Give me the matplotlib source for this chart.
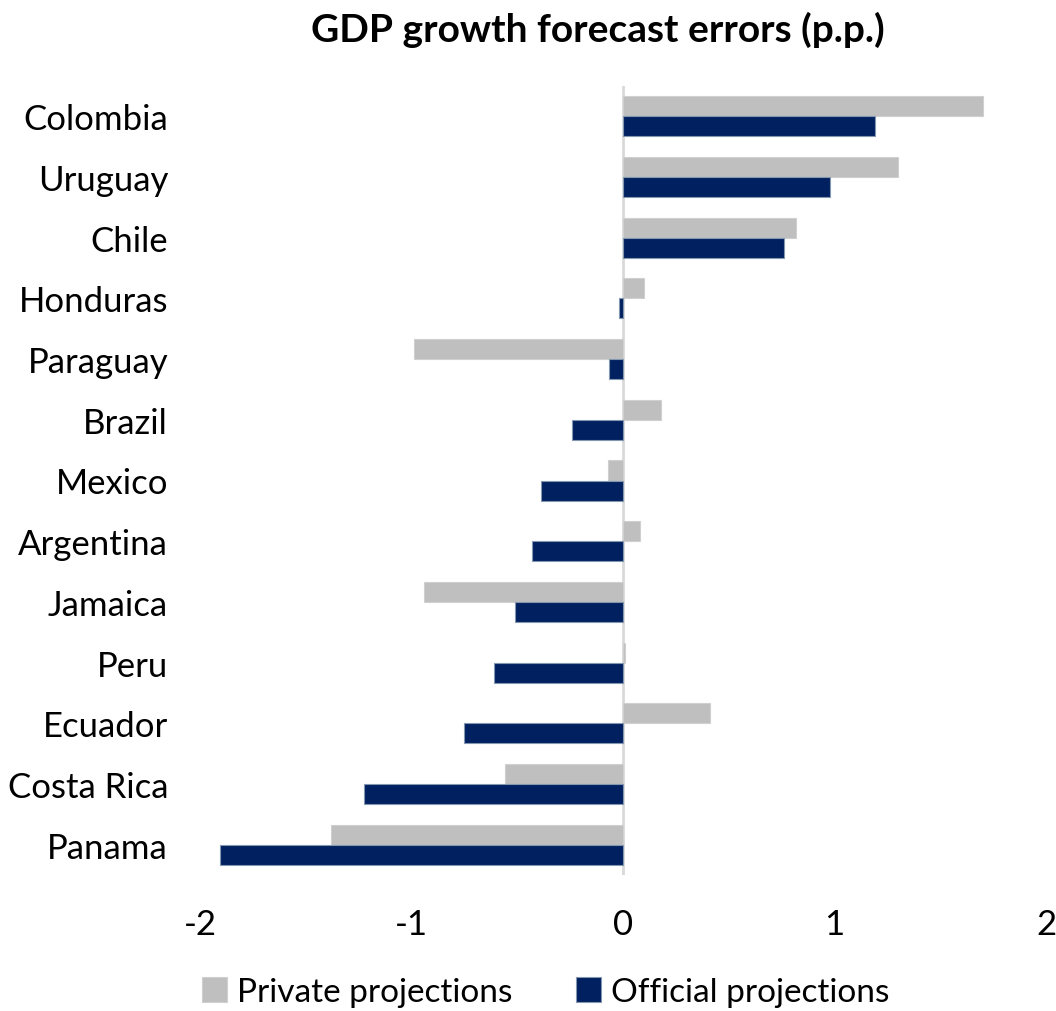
import matplotlib
matplotlib.use("Agg")
import matplotlib.pyplot as plt
import numpy as np

countries = ["Colombia", "Uruguay", "Chile", "Honduras", "Paraguay", "Brazil",
             "Mexico", "Argentina", "Jamaica", "Peru", "Ecuador", "Costa Rica", "Panama"]
private = [1.70, 1.30, 0.82, 0.10, -0.99, 0.18, -0.07, 0.08, -0.94, 0.01, 0.41, -0.56, -1.38]
official = [1.19, 0.98, 0.76, -0.017, -0.066, -0.24, -0.39, -0.43, -0.51, -0.61, -0.75, -1.225, -1.905]
xticks = [-2, -1, 0, 1, 2]

plt.rcParams["font.family"] = ["Lato", "DejaVu Sans"]

fig = plt.figure(figsize=(10.56, 10.12), dpi=100)
ax = fig.add_axes([200 / 1056, 1 - 876 / 1012, 846 / 1056, 789 / 1012])

y = np.arange(len(countries))
h = 0.33
ax.barh(y - h / 2, private, height=h, color="#bfbfbf", edgecolor="#d0d0d0",
        linewidth=0.8, label="Private projections", zorder=2)
ax.barh(y + h / 2, official, height=h, color="#002060", edgecolor="#8497b0",
        linewidth=0.8, label="Official projections", zorder=2)

ax.set_ylim(len(countries) - 0.5, -0.5)
ax.set_xlim(-2, 2)
ax.set_yticks(y)
ax.set_yticklabels(countries, fontsize=25)
ax.set_xticks(xticks)
ax.set_xticklabels([str(t) for t in xticks], fontsize=25)
ax.tick_params(axis="both", length=0)
ax.tick_params(axis="y", pad=23)
ax.tick_params(axis="x", pad=24)

for s in ax.spines.values():
    s.set_visible(False)
ax.axvline(0, color="#d9d9d9", linewidth=2, zorder=1)

fig.text(598 / 1056, 1 - 30 / 1012, "GDP growth forecast errors (p.p.)",
         ha="center", va="center", fontsize=28, fontweight="bold")

fig.legend(loc="center", bbox_to_anchor=(546 / 1056, 1 - 993 / 1012), ncol=2,
           frameon=False, fontsize=24, handlelength=0.75, handleheight=0.75,
           handletextpad=0.3, columnspacing=1.9)

fig.savefig("out.png", dpi=100)
